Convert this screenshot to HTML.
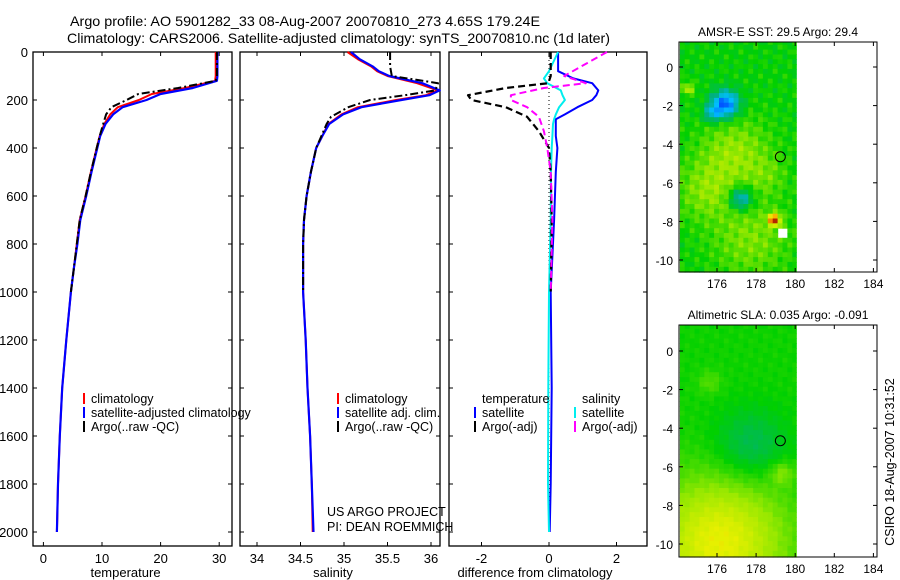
<!DOCTYPE html>
<html><head><meta charset="utf-8"><style>
body{margin:0;background:#fff}
svg{display:block;font-family:"Liberation Sans",sans-serif}
</style></head><body>
<svg id="fig" width="900" height="580" viewBox="0 0 900 580">
<text x="70" y="26" font-size="14" textLength="470" lengthAdjust="spacingAndGlyphs">Argo profile: AO 5901282_33 08-Aug-2007 20070810_273 4.65S 179.24E</text>
<text x="67" y="43" font-size="14" textLength="543" lengthAdjust="spacingAndGlyphs">Climatology: CARS2006. Satellite-adjusted climatology: synTS_20070810.nc (1d later)</text>
<g id="plots"></g>
</svg>
<script>
// ---- data ----
const depthT = [0,100,120,150,175,200,230,260,300,350,400,500,600,700,800,900,1000,1200,1400,1600,1800,2000];
const tempClim = [29.4,29.4,29.3,24.2,18.5,16.3,12.7,11.4,10.4,9.6,9.1,8.1,7.2,6.2,5.7,5.2,4.7,3.9,3.2,2.8,2.5,2.3];
const tempSat  = [29.7,29.7,29.6,25.5,20,17.6,13.5,11.9,10.6,9.7,9.2,8.2,7.3,6.3,5.8,5.2,4.7,3.9,3.2,2.8,2.5,2.3];
const depthArgo = [0,100,120,150,175,200,230,260,300,350,400,500,600,700,800,900,1000];
const tempArgo = [29.6,29.6,29.4,23,16.2,14.2,11.6,10.7,10.2,9.6,9.1,8.1,7.2,6.2,5.7,5.2,4.7];
const salDepth = [0,30,60,80,100,130,160,180,200,230,260,300,350,400,500,600,700,800,1000,1200,1400,1600,1800,2000];
const salClim = [35.04,35.16,35.31,35.38,35.5,35.84,36.08,35.94,35.6,35.16,34.97,34.82,34.75,34.68,34.62,34.57,34.54,34.53,34.53,34.56,34.58,34.61,34.63,34.64];
const salSat  = [35.08,35.18,35.33,35.4,35.52,35.9,36.1,35.98,35.66,35.2,34.99,34.83,34.75,34.68,34.62,34.57,34.54,34.53,34.53,34.56,34.58,34.61,34.63,34.65];
const salArgoDepth = [0,60,100,130,160,180,200,230,270,300,350,400,500,600,700,800,1000];
const salArgo = [35.53,35.53,35.55,36.08,36.05,35.7,35.3,35.05,34.85,34.8,34.74,34.68,34.62,34.57,34.54,34.53,34.53];
const diffDepth = [0,50,80,110,130,160,180,200,230,260,280,300,350,400,500,700,1000,1400,1800,2000];
const dTempSat = [0.27,0.27,0.27,0.72,1.28,1.46,1.4,1.28,0.84,0.47,0.2,0.2,0.2,0.25,0.2,0.15,0.05,0.08,0.05,0.02];
const dSalSat  = [0.27,0.1,0.0,-0.15,-0.05,0.35,0.4,0.47,0.3,0.2,0.15,0.12,0.1,0.08,0.06,0.05,0.0,-0.02,-0.03,0.0];
const argoDiffDepth = [0,100,130,150,180,200,230,270,330,400,500,700,1000];
const dTempArgo = [0.05,0.05,-0.02,-1.28,-2.4,-2.3,-1.28,-0.65,-0.3,0,0.05,0.08,0.05];
const dSalArgo = [1.72,0.45,1.09,-0.15,-1.13,-1.13,-0.65,-0.3,-0.15,-0.05,0.05,0.1,0.05];
const depthTicks = [0,200,400,600,800,1000,1200,1400,1600,1800,2000];
const tempTicks = [0,10,20,30];
const salTicks = [34,34.5,35,35.5,36];
const diffTicks = [-2,0,2];
const lonTicks = [176,178,180,182,184];
const latTicks = [0,-2,-4,-6,-8,-10];
// map fields: blobs [lon, lat, radius(deg), amplitude]
const sstBlobs = [[176.8,-4.3,1.8,0.11],[175.3,-6.3,1.5,0.09],[177.6,-8.8,2.0,0.09],[178.5,-5.5,1.0,0.05],[176.3,-1.8,0.7,-0.33],[175.6,-2.3,0.45,-0.15],[177.1,-6.7,0.6,-0.22],[178.8,-7.8,0.3,0.4],[174.4,-1.0,0.3,0.15]];
const slaBlobs = [[177.6,-4.8,1.8,-0.09],[176,-9.8,3.4,0.2],[179.2,-6.2,0.6,0.08],[175.5,-1.5,0.6,0.05]];
const floatLon = 179.24, floatLat = -4.65;

const NS='http://www.w3.org/2000/svg';
const root=document.getElementById('plots');
function el(tag,attrs,parent){const e=document.createElementNS(NS,tag);for(const k in attrs)e.setAttribute(k,attrs[k]);(parent||root).appendChild(e);return e;}
function txt(x,y,s,size,anchor,parent){const t=el('text',{x:x,y:y,'font-size':size,'text-anchor':anchor||'start'},parent);t.textContent=s;return t;}

const Y0=52, YS=0.24; const yD=d=>Y0+d*YS;
const panels=[
 {x0:33,x1:232,f:v=>43.4+5.86*v,ticks:tempTicks,label:'temperature',name:'temperature-panel'},
 {x0:240,x1:440,f:v=>257+87*(v-34),ticks:salTicks,label:'salinity',name:'salinity-panel'},
 {x0:449,x1:647,f:v=>549+33.75*v,ticks:diffTicks,label:'difference from climatology',name:'difference-panel'}];
const yTop=52,yBot=546;
panels.forEach((p,i)=>{
 const g=el('g',{});
 
 
 el('rect',{x:p.x0,y:yTop,width:p.x1-p.x0,height:yBot-yTop,fill:'none',stroke:'#000','stroke-width':1.3},g);
 depthTicks.forEach(d=>{const y=yD(d);
  el('line',{x1:p.x0,x2:p.x0+4,y1:y,y2:y,stroke:'#000'},g);
  el('line',{x1:p.x1,x2:p.x1-4,y1:y,y2:y,stroke:'#000'},g);
  if(i===0){const t=txt(28,y+5,String(d),13,'end',g);}
 });
 p.ticks.forEach(v=>{const x=p.f(v);
  el('line',{x1:x,x2:x,y1:yBot,y2:yBot-4,stroke:'#000'},g);
  el('line',{x1:x,x2:x,y1:yTop,y2:yTop+4,stroke:'#000'},g);
  txt(x,563,String(v),13,'middle',g);
 });
 const lab=txt((p.x0+p.x1)/2+(i===2?-13:-7),577,p.label,13,'middle',g);
});
function line(depths,vals,f,color,w,dash,name){
 const pts=depths.map((d,i)=>f(vals[i]).toFixed(1)+','+yD(d).toFixed(1)).join(' ');
 const pl=el('polyline',{points:pts,fill:'none',stroke:color,'stroke-width':w,'stroke-dasharray':dash||'none','stroke-linejoin':'round'});
 
 
}
const [P1,P2,P3]=panels;
line(depthT,tempClim,P1.f,'#f00',2,null,'temp-climatology-line');
line(depthT,tempSat,P1.f,'#00f',2.2,null,'temp-satellite-line');
line(depthArgo,tempArgo,P1.f,'#000',2,'8,3,2,3','temp-argo-line');
line(salDepth,salClim,P2.f,'#f00',2,null,'sal-climatology-line');
line(salDepth,salSat,P2.f,'#00f',2.2,null,'sal-satellite-line');
line(salArgoDepth,salArgo,P2.f,'#000',2,'8,3,2,3','sal-argo-line');
el('line',{x1:P3.f(0),x2:P3.f(0),y1:yTop,y2:yD(2000),stroke:'#000','stroke-width':1,'stroke-dasharray':'1,3'});
line(diffDepth,dTempSat,P3.f,'#00f',2,null,'diff-temp-satellite-line');
line(diffDepth,dSalSat,P3.f,'#0ee',2,null,'diff-sal-satellite-line');
line(argoDiffDepth,dTempArgo,P3.f,'#000',2.2,'7,4','diff-temp-argo-line');
line(argoDiffDepth,dSalArgo,P3.f,'#f0f',2,'7,4','diff-sal-argo-line');

function legItem(mx,y,color,label,name){
 const g=el('g',{});
 
 
 if(color) el('line',{x1:mx,x2:mx,y1:y-10,y2:y+1,stroke:color,'stroke-width':2},g);
 txt(mx+7,y,label,12.5,'start',g);
}
legItem(84,403,'#f00','climatology','legend-entry-climatology');
legItem(84,417,'#00f','satellite-adjusted climatology','legend-entry-satellite-adjusted');
legItem(84,431,'#000','Argo(..raw -QC)','legend-entry-argo');
legItem(338,403,'#f00','climatology','legend-entry-climatology-2');
legItem(338,417,'#00f','satellite adj. clim.','legend-entry-satellite-adj');
legItem(338,431,'#000','Argo(..raw -QC)','legend-entry-argo-2');
legItem(475,403,null,'temperature','legend-header-temperature');
legItem(475,417,'#00f','satellite','legend-entry-temp-satellite');
legItem(475,431,'#000','Argo(-adj)','legend-entry-temp-argo');
legItem(575,403,null,'salinity','legend-header-salinity');
legItem(575,417,'#0ee','satellite','legend-entry-sal-satellite');
legItem(575,431,'#f0f','Argo(-adj)','legend-entry-sal-argo');
txt(327,516,'US ARGO PROJECT',12.5);
txt(327,531,'PI: DEAN ROEMMICH',12.5);

// ---- maps ----
const cmapStops=[[0,[0,0,128]],[0.2,[0,64,255]],[0.33,[0,190,255]],[0.44,[0,176,128]],[0.55,[0,208,0]],[0.66,[150,232,0]],[0.76,[232,240,0]],[0.86,[255,160,0]],[1,[176,32,0]]];
function cmap(v){v=Math.max(0,Math.min(1,v));for(let i=1;i<cmapStops.length;i++){const [a,ca]=cmapStops[i-1],[b,cb]=cmapStops[i];if(v<=b){const t=(v-a)/(b-a);return 'rgb('+ca.map((c,j)=>Math.round(c+(cb[j]-c)*t)).join(',')+')';}}}
function drawMap(y0,y1,latY0,latYm10,title,blobs,base,name,texture){
 const g=el('g',{});
 
 
 const x0=679,x1=877;
 const lx=lon=>717+(lon-176)*19.55;
 const ly=lat=>latY0+(latYm10-latY0)*(-lat/10);
 const step=0.25;
 for(let lon=174.1;lon<180.05;lon+=step){
  for(let lat=1.4;lat>-10.7;lat-=step){
   let v=base+texture*Math.sin(lon*7.3+lat*3.1)*Math.cos(lat*5.7-lon*2.3);
   blobs.forEach(b=>{const d2=((lon-b[0])**2+(lat-b[1])**2)/(b[2]*b[2]);v+=b[3]*Math.exp(-d2);});
   if(name==='sst-map' && lon>178.9&&lon<179.6&&lat<-8.1&&lat>-8.8) continue;
   const xa=lx(lon),ya=ly(lat),xb=Math.min(lx(lon+step),lx(180.05)),yb=Math.min(ly(lat-step),y1);
   if(ya>=y1||xa>=lx(180.05))continue;
   el('rect',{x:xa.toFixed(1),y:Math.max(ya,y0).toFixed(1),width:(xb-xa+0.6).toFixed(1),height:(yb-Math.max(ya,y0)+0.6).toFixed(1),fill:cmap(v)},g);
  }
 }
 el('rect',{x:x0,y:y0,width:x1-x0,height:y1-y0,fill:'none',stroke:'#000','stroke-width':1},g);
 lonTicks.forEach(l=>{const x=lx(l);el('line',{x1:x,x2:x,y1:y1,y2:y1-4,stroke:'#000'},g);el('line',{x1:x,x2:x,y1:y0,y2:y0+4,stroke:'#000'},g);txt(x,y1+16,String(l),12,'middle',g);});
 latTicks.forEach(l=>{const y=ly(l);el('line',{x1:x0,x2:x0+4,y1:y,y2:y,stroke:'#000'},g);el('line',{x1:x1,x2:x1-4,y1:y,y2:y,stroke:'#000'},g);txt(x0-6,y+5,String(l),12,'end',g);});
 const c=el('circle',{cx:lx(floatLon),cy:ly(floatLat),r:5,fill:'none',stroke:'#000','stroke-width':1},g);
 
 
 txt(778,y0-6,title,12,'middle',g);
}
drawMap(42,272,67,260,'AMSR-E SST: 29.5 Argo: 29.4',sstBlobs,0.55,'sst-map',0.04);
drawMap(325,557,351,544,'Altimetric SLA: 0.035 Argo: -0.091',slaBlobs,0.56,'sla-map',0.012);
const side=txt(0,0,'CSIRO 18-Aug-2007 10:31:52',12.5,'middle');
side.setAttribute('transform','translate(894,462) rotate(-90)');
</script>
</body></html>
